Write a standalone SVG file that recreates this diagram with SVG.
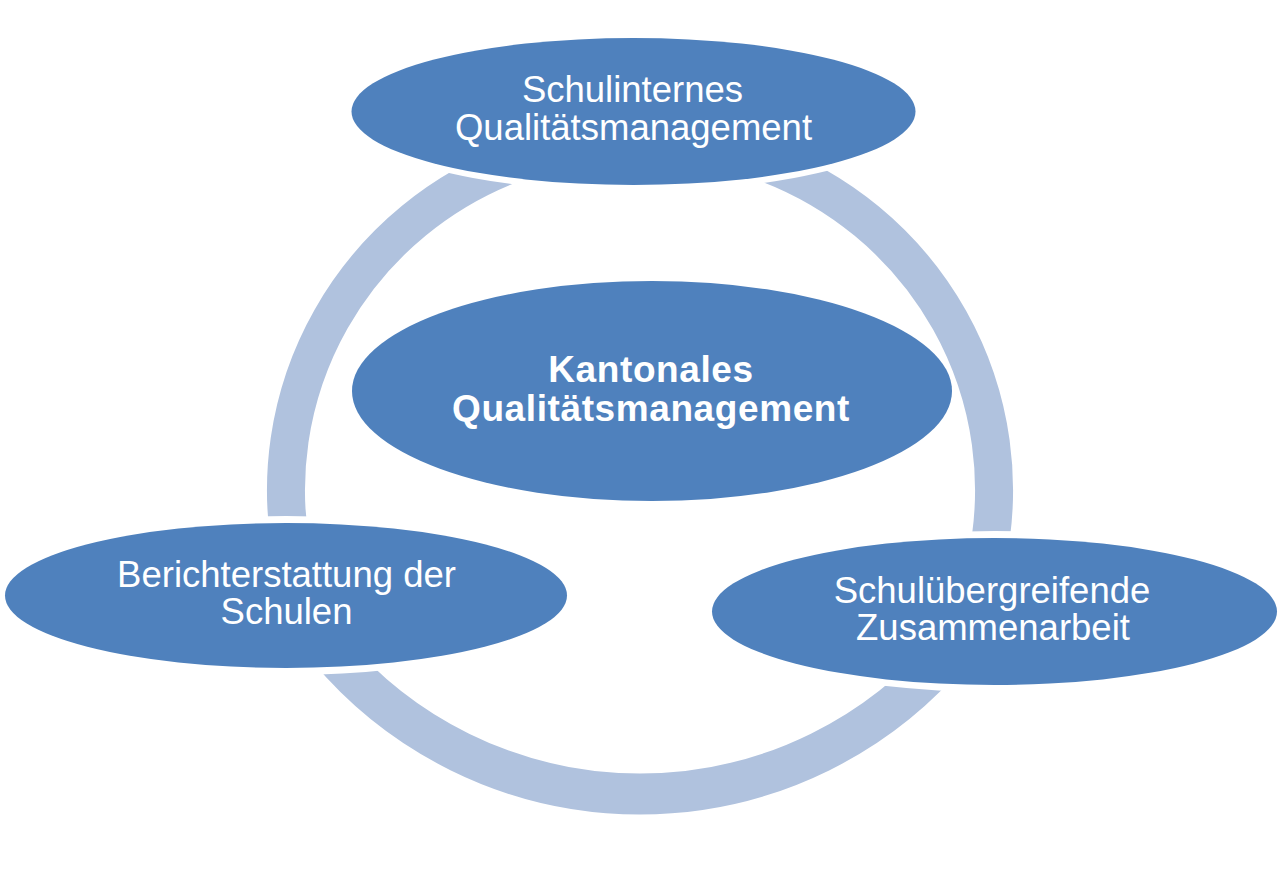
<svg xmlns="http://www.w3.org/2000/svg" width="1280" height="870" viewBox="0 0 1280 870">
  <style>
    .ring { fill: none; stroke: #B0C2DE; stroke-linecap: butt; }
    .halo { fill: #FFFFFF; }
    .node { fill: #4F81BD; }
    .lbl { fill: #FFFFFF; font-family: "Liberation Sans", Arial, sans-serif; font-size: 36.5px; text-anchor: middle; }
    .bold { font-weight: bold; font-size: 37px; letter-spacing: 0.6px; }
  </style>
  <rect width="1280" height="870" fill="#FFFFFF"/>
  <g id="connectors">
    <path class="ring" stroke-width="38" d="M518.9,161.1 A354,350 0 0 0 293.1,559.8"/>
    <path class="ring" stroke-width="38" d="M761.1,161.1 A354,350 0 0 1 986.3,562.8"/>
    <path class="ring" stroke-width="41" d="M328.2,648.6 A407,407 0 0 0 951.8,648.6"/>
  </g>
  <g id="node-center">
    <ellipse class="halo" cx="652" cy="391" rx="303" ry="113"/>
    <ellipse class="node" cx="652" cy="391" rx="300" ry="110"/>
    <text class="lbl bold" x="651" y="381.5">Kantonales</text>
    <text class="lbl bold" x="651" y="420.5">Qualitätsmanagement</text>
  </g>
  <g id="node-top">
    <ellipse class="halo" cx="633.5" cy="111.5" rx="289" ry="80"/>
    <ellipse class="node" cx="633.5" cy="111.5" rx="282" ry="73.5"/>
    <text class="lbl" x="632.5" y="102.3">Schulinternes</text>
    <text class="lbl" x="633.5" y="139.5">Qualitätsmanagement</text>
  </g>
  <g id="node-left">
    <ellipse class="halo" cx="286" cy="595.5" rx="288" ry="79.5"/>
    <ellipse class="node" cx="286" cy="595.5" rx="281" ry="72.5"/>
    <text class="lbl" x="286.5" y="587">Berichterstattung der</text>
    <text class="lbl" x="286.5" y="624">Schulen</text>
  </g>
  <g id="node-right">
    <ellipse class="halo" cx="994.5" cy="611.5" rx="289.5" ry="80.5"/>
    <ellipse class="node" cx="994.5" cy="611.5" rx="282.5" ry="73.5"/>
    <text class="lbl" x="992" y="603">Schulübergreifende</text>
    <text class="lbl" x="993" y="640">Zusammenarbeit</text>
  </g>
</svg>
